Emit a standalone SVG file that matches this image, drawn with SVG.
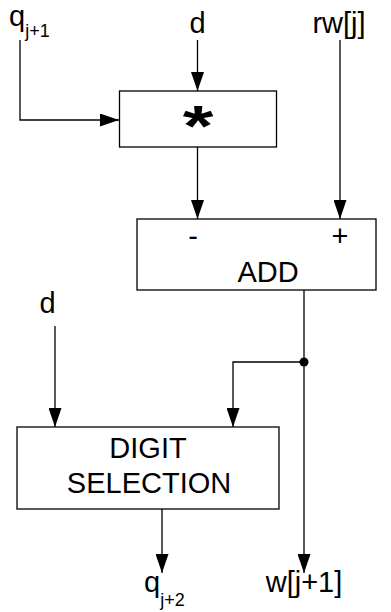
<svg xmlns="http://www.w3.org/2000/svg" width="391" height="612" viewBox="0 0 391 612">
<style>
.box{fill:#fff;stroke:#000;stroke-width:1.3}
.ln{fill:none;stroke:#000;stroke-width:1.3}
text{font-family:"Liberation Sans",Arial,sans-serif;fill:#000}
.lbl{font-size:29px}
.sub{font-size:18px}
</style>
<defs>
<marker id="ah" viewBox="0 0 19 13" refX="19" refY="6.5" markerWidth="19" markerHeight="13" markerUnits="userSpaceOnUse" orient="auto">
<path d="M0,0 L19,6.5 L0,13 Z" fill="#000"/>
</marker>
</defs>
<g id="labels">
<text class="lbl" x="9" y="26">q<tspan class="sub" dy="11">j+1</tspan></text>
<text class="lbl" x="197.5" y="33" text-anchor="middle">d</text>
<text class="lbl" x="339" y="33" text-anchor="middle">rw[j]</text>
<text class="lbl" x="47.5" y="313" text-anchor="middle">d</text>
<text class="lbl" x="144" y="592">q<tspan class="sub" dy="14">j+2</tspan></text>
<text class="lbl" x="304" y="592" text-anchor="middle">w[j+1]</text>
</g>
<g id="mult">
<rect class="box" x="119.5" y="91" width="157" height="56"/>
<text transform="translate(198,146) scale(1.38,1)" x="0" y="0" text-anchor="middle" font-size="57" font-weight="bold">*</text>
</g>
<g id="add">
<rect class="box" x="137" y="219" width="239" height="71"/>
<text class="lbl" x="193" y="246" text-anchor="middle">-</text>
<text class="lbl" x="340" y="246" text-anchor="middle">+</text>
<text class="lbl" x="268" y="282" text-anchor="middle">ADD</text>
</g>
<g id="digitsel">
<rect class="box" x="17" y="427" width="262" height="82"/>
<text class="lbl" x="148" y="458" text-anchor="middle">DIGIT</text>
<text class="lbl" x="149" y="493" text-anchor="middle">SELECTION</text>
</g>
<g id="connectors">
<path class="ln" d="M20,40 V120 H119" marker-end="url(#ah)"/>
<path class="ln" d="M197.5,40 V91" marker-end="url(#ah)"/>
<path class="ln" d="M197.5,147 V219" marker-end="url(#ah)"/>
<path class="ln" d="M340,40 V219" marker-end="url(#ah)"/>
<path class="ln" d="M304,290 V573" marker-end="url(#ah)"/>
<path class="ln" d="M304,362 H233 V427" marker-end="url(#ah)"/>
<path class="ln" d="M55,326 V427" marker-end="url(#ah)"/>
<path class="ln" d="M162,509 V573" marker-end="url(#ah)"/>
<circle cx="304" cy="362" r="4.5" fill="#000"/>
</g>
</svg>
